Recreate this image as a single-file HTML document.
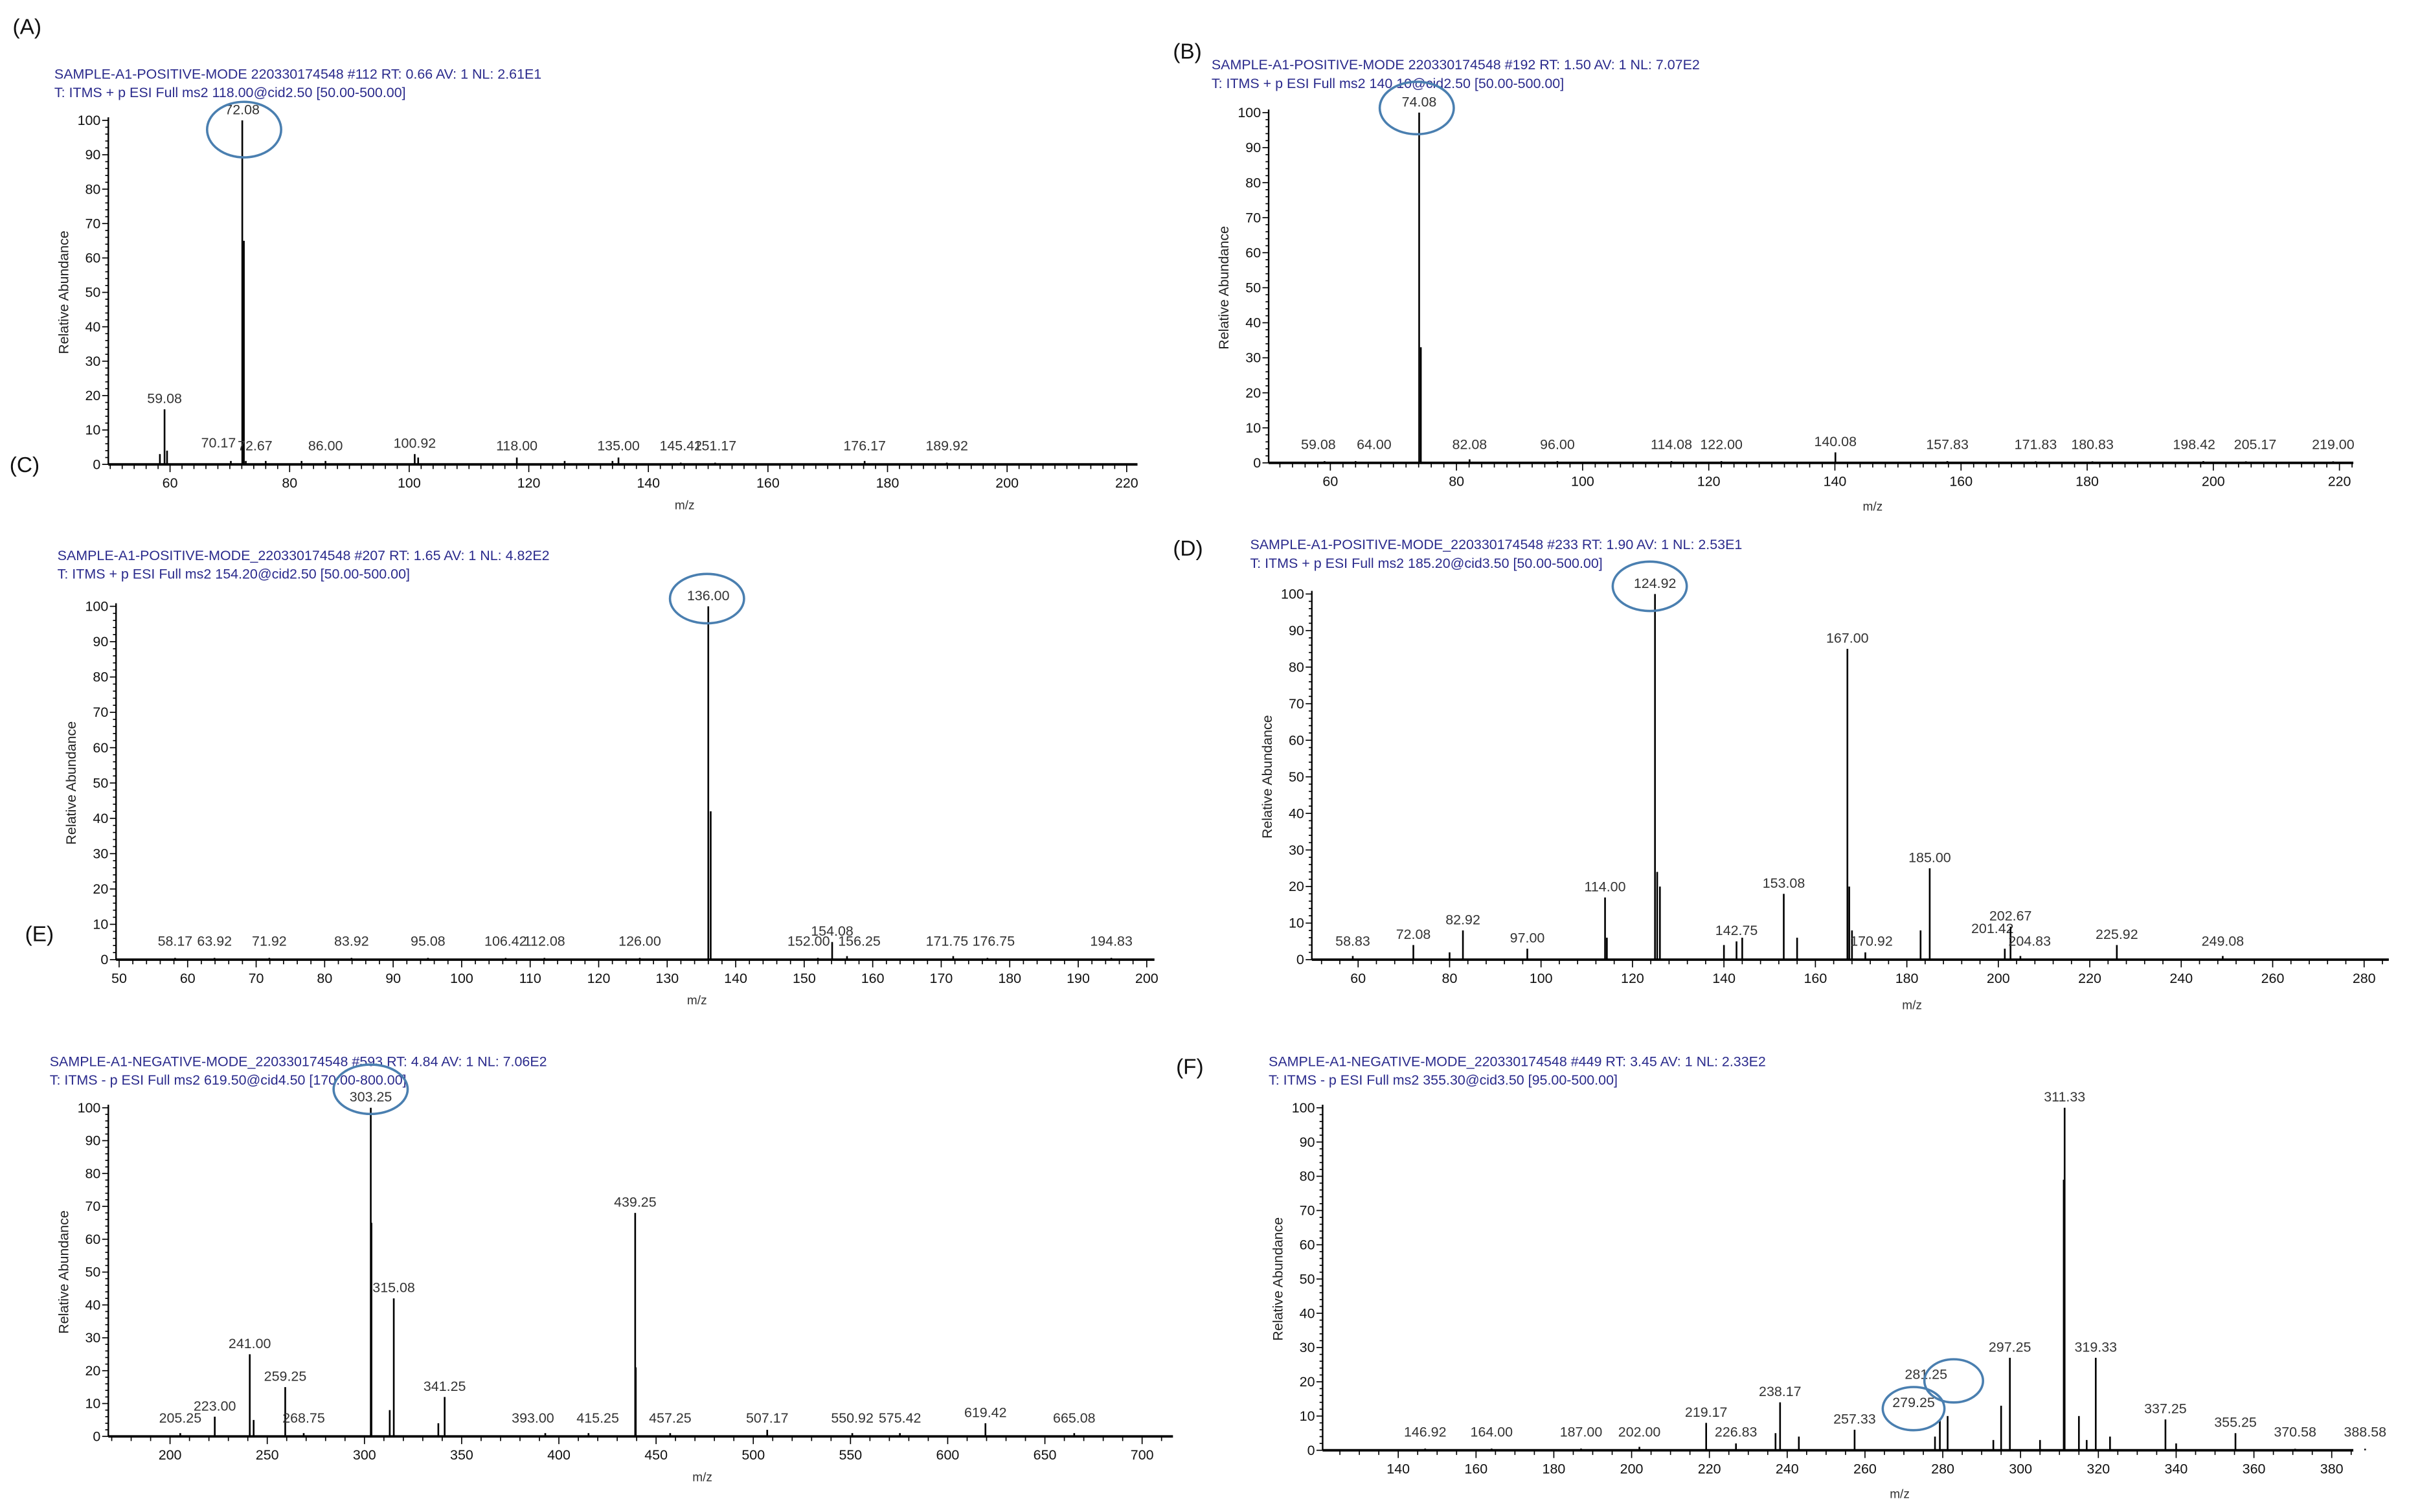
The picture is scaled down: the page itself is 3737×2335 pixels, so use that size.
<!DOCTYPE html>
<html><head><meta charset="utf-8"><style>
html,body{margin:0;padding:0;background:#fff}
svg{display:block}
text{font-family:"Liberation Sans",sans-serif}
</style></head><body>
<svg id="fig" xmlns="http://www.w3.org/2000/svg" width="3737" height="2335" viewBox="0 0 1568 980">
<rect width="1568" height="980" fill="#fff"/>
<g font-size="14" fill="#111">
<text x="8" y="22">(A)</text>
<text x="760" y="38">(B)</text>
<text x="6" y="306">(C)</text>
<text x="760" y="360">(D)</text>
<text x="16" y="610">(E)</text>
<text x="762" y="696">(F)</text>
</g>
</svg>
<script>
// ---- data (m/z, relative intensity, printed labels) ----
const aMz=[58.3,59.08,59.5,70.17,72.08,72.35,72.67,76,82,86,100.92,101.5,118,126,134,135,145.42,151.17,176.17,189.92];
const aInt=[3,16,4,1,100,65,1,1,1,1,3,2,2,1,1,2,0.5,0.5,1,0.5];
const aLab=["","59.08","","70.17","72.08","","72.67","","","86.00","100.92","","118.00","","","135.00","145.42","151.17","176.17","189.92"];
const bMz=[59.08,64,74.08,74.35,82.08,96,114.08,122,140.08,157.83,171.83,180.83,198.42,205.17,219];
const bInt=[0.5,0.5,100,33,1,0.5,0.5,0.5,3,0.5,0.3,0.3,0.5,0.3,0.3];
const bLab=["59.08","64.00","74.08","","82.08","96.00","114.08","122.00","140.08","157.83","171.83","180.83","198.42","205.17","219.00"];
const cMz=[58.17,63.92,71.92,83.92,95.08,106.42,112.08,126,136,136.35,152,154.08,156.25,171.75,176.75,194.83];
const cInt=[0.5,0.5,0.5,0.5,0.5,0.5,0.5,0.5,100,42,0.5,5,1,1,0.5,0.5];
const cLab=["58.17","63.92","71.92","83.92","95.08","106.42","112.08","126.00","136.00","","152.00","154.08","156.25","171.75","176.75","194.83"];
const dMz=[58.83,72.08,80,82.92,97,114,114.4,124.92,125.4,126,140,142.75,144,153.08,156,167,167.4,168,170.92,183,185,201.42,202.67,204.83,225.92,249.08];
const dInt=[1,4,2,8,3,17,6,100,24,20,4,5,6,18,6,85,20,8,2,8,25,3,9,1,4,1];
const dLab=["58.83","72.08","","82.92","97.00","114.00","","124.92","","","","142.75","","153.08","","167.00","","","170.92","","185.00","201.42","202.67","204.83","225.92","249.08"];
const eMz=[205.25,223,241,243,259.25,268.75,303.25,303.6,313,315.08,338,341.25,393,415.25,439.25,439.55,457.25,507.17,550.92,575.42,619.42,665.08];
const eInt=[1,6,25,5,15,1,100,65,8,42,4,12,1,1,68,21,1,2,1,1,4,1];
const eLab=["205.25","223.00","241.00","","259.25","268.75","303.25","","","315.08","","341.25","393.00","415.25","439.25","","457.25","507.17","550.92","575.42","619.42","665.08"];
const fMz=[146.92,164,187,202,219.17,226.83,237,238.17,243,257.33,278,279.25,281.25,293,295,297.25,305,311.1,311.33,315,317,319.33,323,337.25,340,355.25,370.58,388.58];
const fInt=[0.5,0.5,0.5,1,8,2,5,14,4,6,4,9,10,3,13,27,3,79,100,10,3,27,4,9,2,5,0.3,0.3];
const fLab=["146.92","164.00","187.00","202.00","219.17","226.83","","238.17","","257.33","","279.25","281.25","","","297.25","","","311.33","","","319.33","","337.25","","355.25","370.58","388.58"];
const xTicksA=[60,80,100,120,140,160,180,200,220];
const xTicksC=[50,60,70,80,90,100,110,120,130,140,150,160,170,180,190,200];
const xTicksD=[60,80,100,120,140,160,180,200,220,240,260,280];
const xTicksE=[200,250,300,350,400,450,500,550,600,650,700];
const xTicksF=[140,160,180,200,220,240,260,280,300,320,340,360,380];
const yTicks=[0,10,20,30,40,50,60,70,80,90,100];

// label nudges (layout only, keyed by label text)
const labNudge={a:{"70.17":[-8,-2],"72.67":[6,0]},b:{"59.08":[-4,0],"64.00":[12,0],"198.42":[-6,0],"205.17":[6,0]},
 c:{"152.00":[-6,0],"156.25":[8,0],"171.75":[-4,0],"176.75":[4,0]},d:{"201.42":[-8,-6],"204.83":[6,0],"170.92":[4,0]},
 e:{"393.00":[-8,0],"415.25":[6,0]},f:{"279.25":[-17,-4],"281.25":[-14,-20]}};

const NS="http://www.w3.org/2000/svg";
const svg=document.getElementById('fig');
function mk(tag,attrs,parent){const e=document.createElementNS(NS,tag);for(const k in attrs)e.setAttribute(k,attrs[k]);(parent||svg).appendChild(e);return e;}

const panels=[
 {id:'a',t1:'SAMPLE-A1-POSITIVE-MODE  220330174548 #112  RT: 0.66  AV: 1  NL: 2.61E1',t2:'T: ITMS + p ESI Full ms2 118.00@cid2.50 [50.00-500.00]',tx:35,ty:51,ax:70,y100:78,y0:301,xEnd:737,m0:60,p0:110,m1:220,p1:730,ticks:xTicksA,minor:2,mz:aMz,it:aInt,lab:aLab,mzY:330,circ:[[158,84,24,18]]},
 {id:'b',t1:'SAMPLE-A1-POSITIVE-MODE  220330174548 #192  RT: 1.50  AV: 1  NL: 7.07E2',t2:'T: ITMS + p ESI Full ms2 140.10@cid2.50 [50.00-500.00]',tx:785,ty:45,ax:822,y100:73,y0:300,xEnd:1525,m0:60,p0:862,m1:220,p1:1516,ticks:xTicksA,minor:2,mz:bMz,it:bInt,lab:bLab,mzY:331,circ:[[918,70,24,17]]},
 {id:'c',t1:'SAMPLE-A1-POSITIVE-MODE_220330174548 #207  RT: 1.65  AV: 1  NL: 4.82E2',t2:'T: ITMS + p ESI Full ms2 154.20@cid2.50 [50.00-500.00]',tx:37,ty:363,ax:75,y100:393,y0:622,xEnd:748,m0:50,p0:77,m1:200,p1:743,ticks:xTicksC,minor:2,mz:cMz,it:cInt,lab:cLab,mzY:651,circ:[[458,388,24,16]]},
 {id:'d',t1:'SAMPLE-A1-POSITIVE-MODE_220330174548 #233  RT: 1.90  AV: 1  NL: 2.53E1',t2:'T: ITMS + p ESI Full ms2 185.20@cid3.50 [50.00-500.00]',tx:810,ty:356,ax:850,y100:385,y0:622,xEnd:1548,m0:60,p0:880,m1:280,p1:1532,ticks:xTicksD,minor:4,mz:dMz,it:dInt,lab:dLab,mzY:654,circ:[[1069,380,24,16]]},
 {id:'e',t1:'SAMPLE-A1-NEGATIVE-MODE_220330174548 #593  RT: 4.84  AV: 1  NL: 7.06E2',t2:'T: ITMS - p ESI Full ms2 619.50@cid4.50 [170.00-800.00]',tx:32,ty:691,ax:70,y100:718,y0:931,xEnd:760,m0:200,p0:110,m1:700,p1:740,ticks:xTicksE,minor:10,mz:eMz,it:eInt,lab:eLab,mzY:960,circ:[[240,706,24,16]]},
 {id:'f',t1:'SAMPLE-A1-NEGATIVE-MODE_220330174548 #449  RT: 3.45  AV: 1  NL: 2.33E2',t2:'T: ITMS - p ESI Full ms2 355.30@cid3.50 [95.00-500.00]',tx:822,ty:691,ax:857,y100:718,y0:940,xEnd:1525,m0:140,p0:906,m1:380,p1:1511,ticks:xTicksF,minor:5,mz:fMz,it:fInt,lab:fLab,mzY:971,circ:[[1240,913,20,14],[1266,895,19,14]]}
];

panels.forEach(p=>{
 const g=mk('g',{});
 
 
 const sx=m=>p.p0+(m-p.m0)*(p.p1-p.p0)/(p.m1-p.m0);
 const sy=v=>p.y0-v*(p.y0-p.y100)/100;
 const t1=mk('text',{x:p.tx,y:p.ty,'font-size':9,fill:'#2a2a8c'},g);t1.textContent=p.t1;
 
 
 const t2=mk('text',{x:p.tx,y:p.ty+12,'font-size':9,fill:'#2a2a8c'},g);t2.textContent=p.t2;
 
 
 const ya=mk('line',{x1:p.ax,y1:p.y100-2,x2:p.ax,y2:p.y0,stroke:'#000','stroke-width':1},g);
 
 
 const xa=mk('line',{x1:p.ax,y1:p.y0,x2:p.xEnd,y2:p.y0,stroke:'#000','stroke-width':1.6},g);
 
 
 for(let v=0;v<=100;v+=2){const y=sy(v);mk('line',{x1:p.ax-(v%10?2:4),y1:y,x2:p.ax,y2:y,stroke:'#000','stroke-width':0.7},g);}
 yTicks.forEach(v=>{const t=mk('text',{x:p.ax-5,y:sy(v)+3,'font-size':9,'text-anchor':'end',fill:'#111'},g);t.textContent=v;
  
  });
 const mlo=p.m0-(p.p0-p.ax)*(p.m1-p.m0)/(p.p1-p.p0), mhi=p.m0+(p.xEnd-p.p0)*(p.m1-p.m0)/(p.p1-p.p0);
 const step=p.ticks[1]-p.ticks[0];
 for(let m=Math.ceil(mlo/p.minor)*p.minor;m<=mhi;m+=p.minor){const x=sx(m);const maj=Math.abs(m%step)<1e-6;mk('line',{x1:x,y1:p.y0,x2:x,y2:p.y0+(maj?5:3),stroke:'#000','stroke-width':0.7},g);}
 p.ticks.forEach(m=>{const t=mk('text',{x:sx(m),y:p.y0+15,'font-size':9,'text-anchor':'middle',fill:'#111'},g);t.textContent=m;
  
  });
 const xt=mk('text',{x:(p.ax+p.xEnd)/2+40,y:p.mzY,'font-size':8,'text-anchor':'middle',fill:'#333'},g);xt.textContent='m/z';
 
 
 const yc=(p.y0+p.y100)/2, yx=p.ax-26;
 const yt=mk('text',{x:yx,y:yc,'font-size':9,'text-anchor':'middle',fill:'#222',transform:`rotate(-90 ${yx} ${yc})`},g);yt.textContent='Relative Abundance';
 
 
 const nud=labNudge[p.id]||{};
 p.mz.forEach((m,i)=>{
  const x=sx(m), top=sy(p.it[i]);
  const ln=mk('line',{x1:x,y1:p.y0,x2:x,y2:Math.min(top,p.y0-1),stroke:'#000','stroke-width':1.1},g);
  
  
  if(p.lab[i]){
   const n=nud[p.lab[i]]||[0,0];
   const ly=Math.min(top-4,p.y0-9)+n[1];
   const t=mk('text',{x:x+n[0],y:ly,'font-size':9,'text-anchor':'middle',fill:'#333'},g);t.textContent=p.lab[i];
   
   
  }
 });
 p.circ.forEach(c=>{
  const e=mk('ellipse',{cx:c[0],cy:c[1],rx:c[2],ry:c[3],fill:'none',stroke:'#4a7fb0','stroke-width':1.5},g);
  
  
 });
});
</script>
</body></html>
